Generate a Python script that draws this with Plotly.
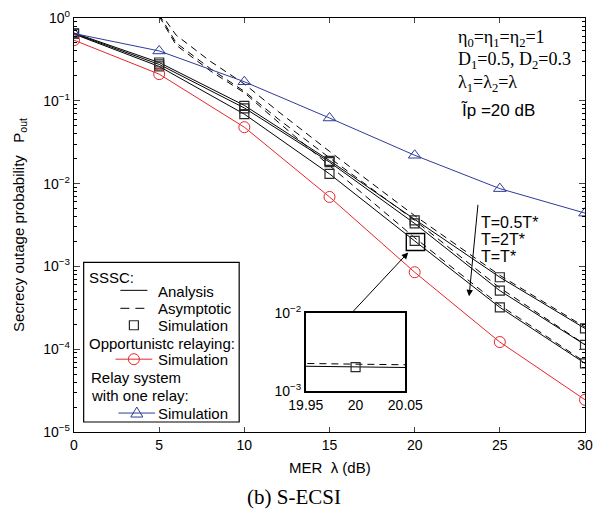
import plotly.graph_objects as go

# ---------------- data ----------------
mer = [0, 5, 10, 15, 20, 25, 30]

# SSSC analysis
ana_05 = [0.66, 0.29, 0.088, 0.0190, 0.0037, 0.00074, 0.000178]   # T=0.5T*
ana_2 = [0.65, 0.275, 0.082, 0.0182, 0.0033, 0.00051, 0.000113]   # T=2T*
ana_1 = [0.64, 0.26, 0.069, 0.0131, 0.00203, 0.00032, 0.0000675]  # T=T*

# SSSC asymptotic
mer_asy = [5, 6, 8, 10, 12, 15, 20, 25, 30]
asy_05 = [1.2, 0.62, 0.30, 0.16, 0.074, 0.0245, 0.0041, 0.00078, 0.000185]
asy_2 = [1.1, 0.50, 0.245, 0.13, 0.060, 0.0205, 0.0036, 0.00055, 0.000114]
asy_1 = [1.05, 0.47, 0.23, 0.125, 0.055, 0.0165, 0.00222, 0.00034, 0.000070]

# SSSC simulation
sim_05 = [0.65, 0.29, 0.087, 0.0188, 0.0036, 0.00074, 0.000178]
sim_2 = [0.65, 0.275, 0.081, 0.0182, 0.0033, 0.00051, 0.000113]
sim_1 = [0.65, 0.26, 0.069, 0.0131, 0.00203, 0.00032, 0.0000675]

# Opportunistic relaying simulation
opp_sim = [0.54, 0.21, 0.048, 0.0069, 0.00085, 0.000122, 0.0000245]
# Relay system with one relay simulation
one_relay = [0.65, 0.40, 0.17, 0.062, 0.022, 0.0087, 0.0044]

x_ticks = [0, 5, 10, 15, 20, 25, 30]
y_ticks = [1e-5, 1e-4, 1e-3, 1e-2, 1e-1, 1]
y_ticktext = ["10<sup>\u22125</sup>", "10<sup>\u22124</sup>", "10<sup>\u22123</sup>",
              "10<sup>\u22122</sup>", "10<sup>\u22121</sup>", "10<sup>0</sup>"]
inset_x_ticks = [19.95, 20, 20.05]
inset_x_text = ["19.95", "20", "20.05"]
inset_y_ticks = [1e-3, 1e-2]
inset_y_text = ["10<sup>\u22123</sup>", "10<sup>\u22122</sup>"]

BLACK = "#000000"
SQ = "#2a2a2a"
RED = "#e8262b"
BLUE = "#2e3c98"
SANS = "Liberation Sans"
SERIF = "Liberation Serif"

fig = go.Figure()

# main traces
for ana in (ana_05, ana_2, ana_1):
    fig.add_trace(go.Scatter(x=mer, y=ana, mode="lines",
                             line=dict(color=BLACK, width=1), showlegend=False))
for asy in (asy_05, asy_2, asy_1):
    fig.add_trace(go.Scatter(x=mer_asy, y=asy, mode="lines",
                             line=dict(color=BLACK, width=1, dash="7px,5px"),
                             showlegend=False))
for sim in (sim_05, sim_2, sim_1):
    fig.add_trace(go.Scatter(x=mer, y=sim, mode="markers",
                             marker=dict(symbol="square-open", size=9,
                                         color=SQ, line=dict(width=1.2)),
                             showlegend=False))
fig.add_trace(go.Scatter(x=mer, y=opp_sim, mode="lines+markers",
                         line=dict(color=RED, width=1),
                         marker=dict(symbol="circle-open", size=11, color=RED,
                                     line=dict(width=1)),
                         showlegend=False))
fig.add_trace(go.Scatter(x=mer, y=one_relay, mode="lines+markers",
                         line=dict(color=BLUE, width=1),
                         marker=dict(symbol="triangle-up-open", size=11, color=BLUE,
                                     line=dict(width=1)),
                         showlegend=False))

# inset traces (T = T* curves zoomed at 20 dB)
fig.add_trace(go.Scatter(x=mer, y=ana_1, mode="lines", xaxis="x2", yaxis="y2",
                         line=dict(color=BLACK, width=1), showlegend=False))
fig.add_trace(go.Scatter(x=mer_asy, y=asy_1, mode="lines", xaxis="x2", yaxis="y2",
                         line=dict(color=BLACK, width=1, dash="7px,5px"),
                         showlegend=False))
fig.add_trace(go.Scatter(x=mer, y=sim_1, mode="markers", xaxis="x2", yaxis="y2",
                         marker=dict(symbol="square-open", size=9, color=SQ,
                                     line=dict(width=1.2)),
                         showlegend=False))

# geometry helpers (plot area: px 74..603 horizontally, 17..432 vertically)
def px(xp):
    return (xp - 74) / 529.0


def py(yp):
    return (432 - yp) / 415.0


minor_vals = [m * 10 ** e for e in range(-5, 0) for m in range(2, 10)]

fig.update_layout(
    width=611, height=510, autosize=False,
    margin=dict(l=74, r=8, t=17, b=78),
    paper_bgcolor="white", plot_bgcolor="white",
    font=dict(family=SANS, size=14, color=BLACK),
    xaxis=dict(range=[0, 30], tickvals=x_ticks, ticks="inside", ticklen=5,
               showline=True, linecolor=BLACK, linewidth=1.4, mirror="ticks",
               showgrid=False, zeroline=False, tickfont=dict(size=14)),
    yaxis=dict(type="log", range=[-5, 0], tickvals=y_ticks, ticktext=y_ticktext,
               ticks="inside", ticklen=6, showline=True, linecolor=BLACK,
               linewidth=1.4, mirror="ticks", showgrid=False, zeroline=False,
               tickfont=dict(size=14),
               minor=dict(tickvals=minor_vals, ticks="inside", ticklen=3,
                          tickcolor=BLACK, showgrid=False)),
    xaxis2=dict(domain=[px(314), px(417)], anchor="y2", range=[19.95, 20.05],
                tickvals=inset_x_ticks, ticktext=inset_x_text, ticks="",
                showline=True, linecolor=BLACK, linewidth=1.6, mirror=True,
                showgrid=False, zeroline=False, tickfont=dict(size=14)),
    yaxis2=dict(domain=[py(391), py(313)], anchor="x2", type="log", range=[-3, -2],
                tickvals=inset_y_ticks, ticktext=inset_y_text, ticks="",
                showline=True, linecolor=BLACK, linewidth=1.6, mirror=True,
                showgrid=False, zeroline=False, tickfont=dict(size=14)),
)

shapes = []
# zoom box around the 20 dB point
shapes.append(dict(type="rect", xref="paper", yref="paper",
                   x0=px(418), x1=px(437), y0=py(250), y1=py(233),
                   line=dict(color=BLACK, width=1.4)))
# legend box
shapes.append(dict(type="rect", xref="paper", yref="paper",
                   x0=px(84), x1=px(245), y0=py(422), y1=py(262),
                   line=dict(color=BLACK, width=1.2), fillcolor="white", layer="above"))
# legend samples
shapes.append(dict(type="line", xref="paper", yref="paper", x0=px(122), x1=px(150),
                   y0=py(290), y1=py(290), line=dict(color=BLACK, width=1)))
shapes.append(dict(type="line", xref="paper", yref="paper", x0=px(122), x1=px(153),
                   y0=py(308), y1=py(308), line=dict(color=BLACK, width=1, dash="9px,6px")))
shapes.append(dict(type="rect", xref="paper", yref="paper",
                   xsizemode="pixel", ysizemode="pixel", xanchor=px(136), yanchor=py(325),
                   x0=-4.5, x1=4.5, y0=-4.5, y1=4.5, line=dict(color=SQ, width=1.2)))
shapes.append(dict(type="line", xref="paper", yref="paper", x0=px(117), x1=px(155),
                   y0=py(359), y1=py(359), line=dict(color=RED, width=1)))
shapes.append(dict(type="circle", xref="paper", yref="paper",
                   xsizemode="pixel", ysizemode="pixel", xanchor=px(136), yanchor=py(359),
                   x0=-5.5, x1=5.5, y0=-5.5, y1=5.5, line=dict(color=RED, width=1)))
shapes.append(dict(type="line", xref="paper", yref="paper", x0=px(120), x1=px(158),
                   y0=py(413), y1=py(413), line=dict(color=BLUE, width=1)))
shapes.append(dict(type="path", xref="paper", yref="paper",
                   xsizemode="pixel", ysizemode="pixel", xanchor=px(139), yanchor=py(413),
                   path="M -6 -4 L 6 -4 L 0 6 Z", line=dict(color=BLUE, width=1)))
fig.update_layout(shapes=shapes)

ann = []


def text(x, y, s, size=15, family=SANS, xanchor="left", angle=0):
    ann.append(dict(xref="paper", yref="paper", x=x, y=y, text=s, showarrow=False,
                    xanchor=xanchor, yanchor="middle", textangle=angle, borderpad=0,
                    font=dict(family=family, size=size, color=BLACK)))


# legend text
text(px(89), py(277), "SSSC:")
text(px(160), py(291), "Analysis")
text(px(160), py(308), "Asymptotic")
text(px(160), py(325), "Simulation")
text(px(89), py(343), "Opportunistc relaying:")
text(px(160), py(359), "Simulation")
text(px(91), py(377), "Relay system")
text(px(91), py(395), "with one relay:")
text(px(160), py(413), "Simulation")

# parameters (top right)
text(px(471), py(38), "\u03b7<sub>0</sub>=\u03b7<sub>1</sub>=\u03b7<sub>2</sub>=1", size=18, family=SERIF)
text(px(471), py(60), "D<sub>1</sub>=0.5, D<sub>2</sub>=0.3", size=18, family=SERIF)
text(px(471), py(83), "\u03bb<sub>1</sub>=\u03bb<sub>2</sub>=\u03bb", size=18, family=SERIF)
text(px(474), py(110), "\u0128p =20 dB", size=17)

# T labels
text(px(494), py(222), "T=0.5T*", size=16)
text(px(494), py(239), "T=2T*", size=16)
text(px(494), py(256), "T=T*", size=16)

# axis titles and caption
text(px(17), 0.5, "Secrecy outage probability \u00a0 P<sub>out</sub>", size=15,
     xanchor="center", angle=-90)
text(0.5, py(468), "MER \u00a0\u03bb (dB)", size=15, xanchor="center")
text(px(302), py(497), "(b) S-ECSI", size=21, family=SERIF, xanchor="center")

# arrows
ann.append(dict(xref="paper", yref="paper", x=px(420), y=py(252), ax=-57, ay=61,
                text="", showarrow=True, arrowhead=2, arrowsize=1.3, arrowwidth=1,
                arrowcolor=BLACK, standoff=0))
ann.append(dict(xref="paper", yref="paper", x=px(483), y=py(296), ax=9, ay=-93,
                text="", showarrow=True, arrowhead=2, arrowsize=1.3, arrowwidth=1,
                arrowcolor=BLACK, standoff=0))
fig.update_layout(annotations=ann)

fig.write_html("out.html")
